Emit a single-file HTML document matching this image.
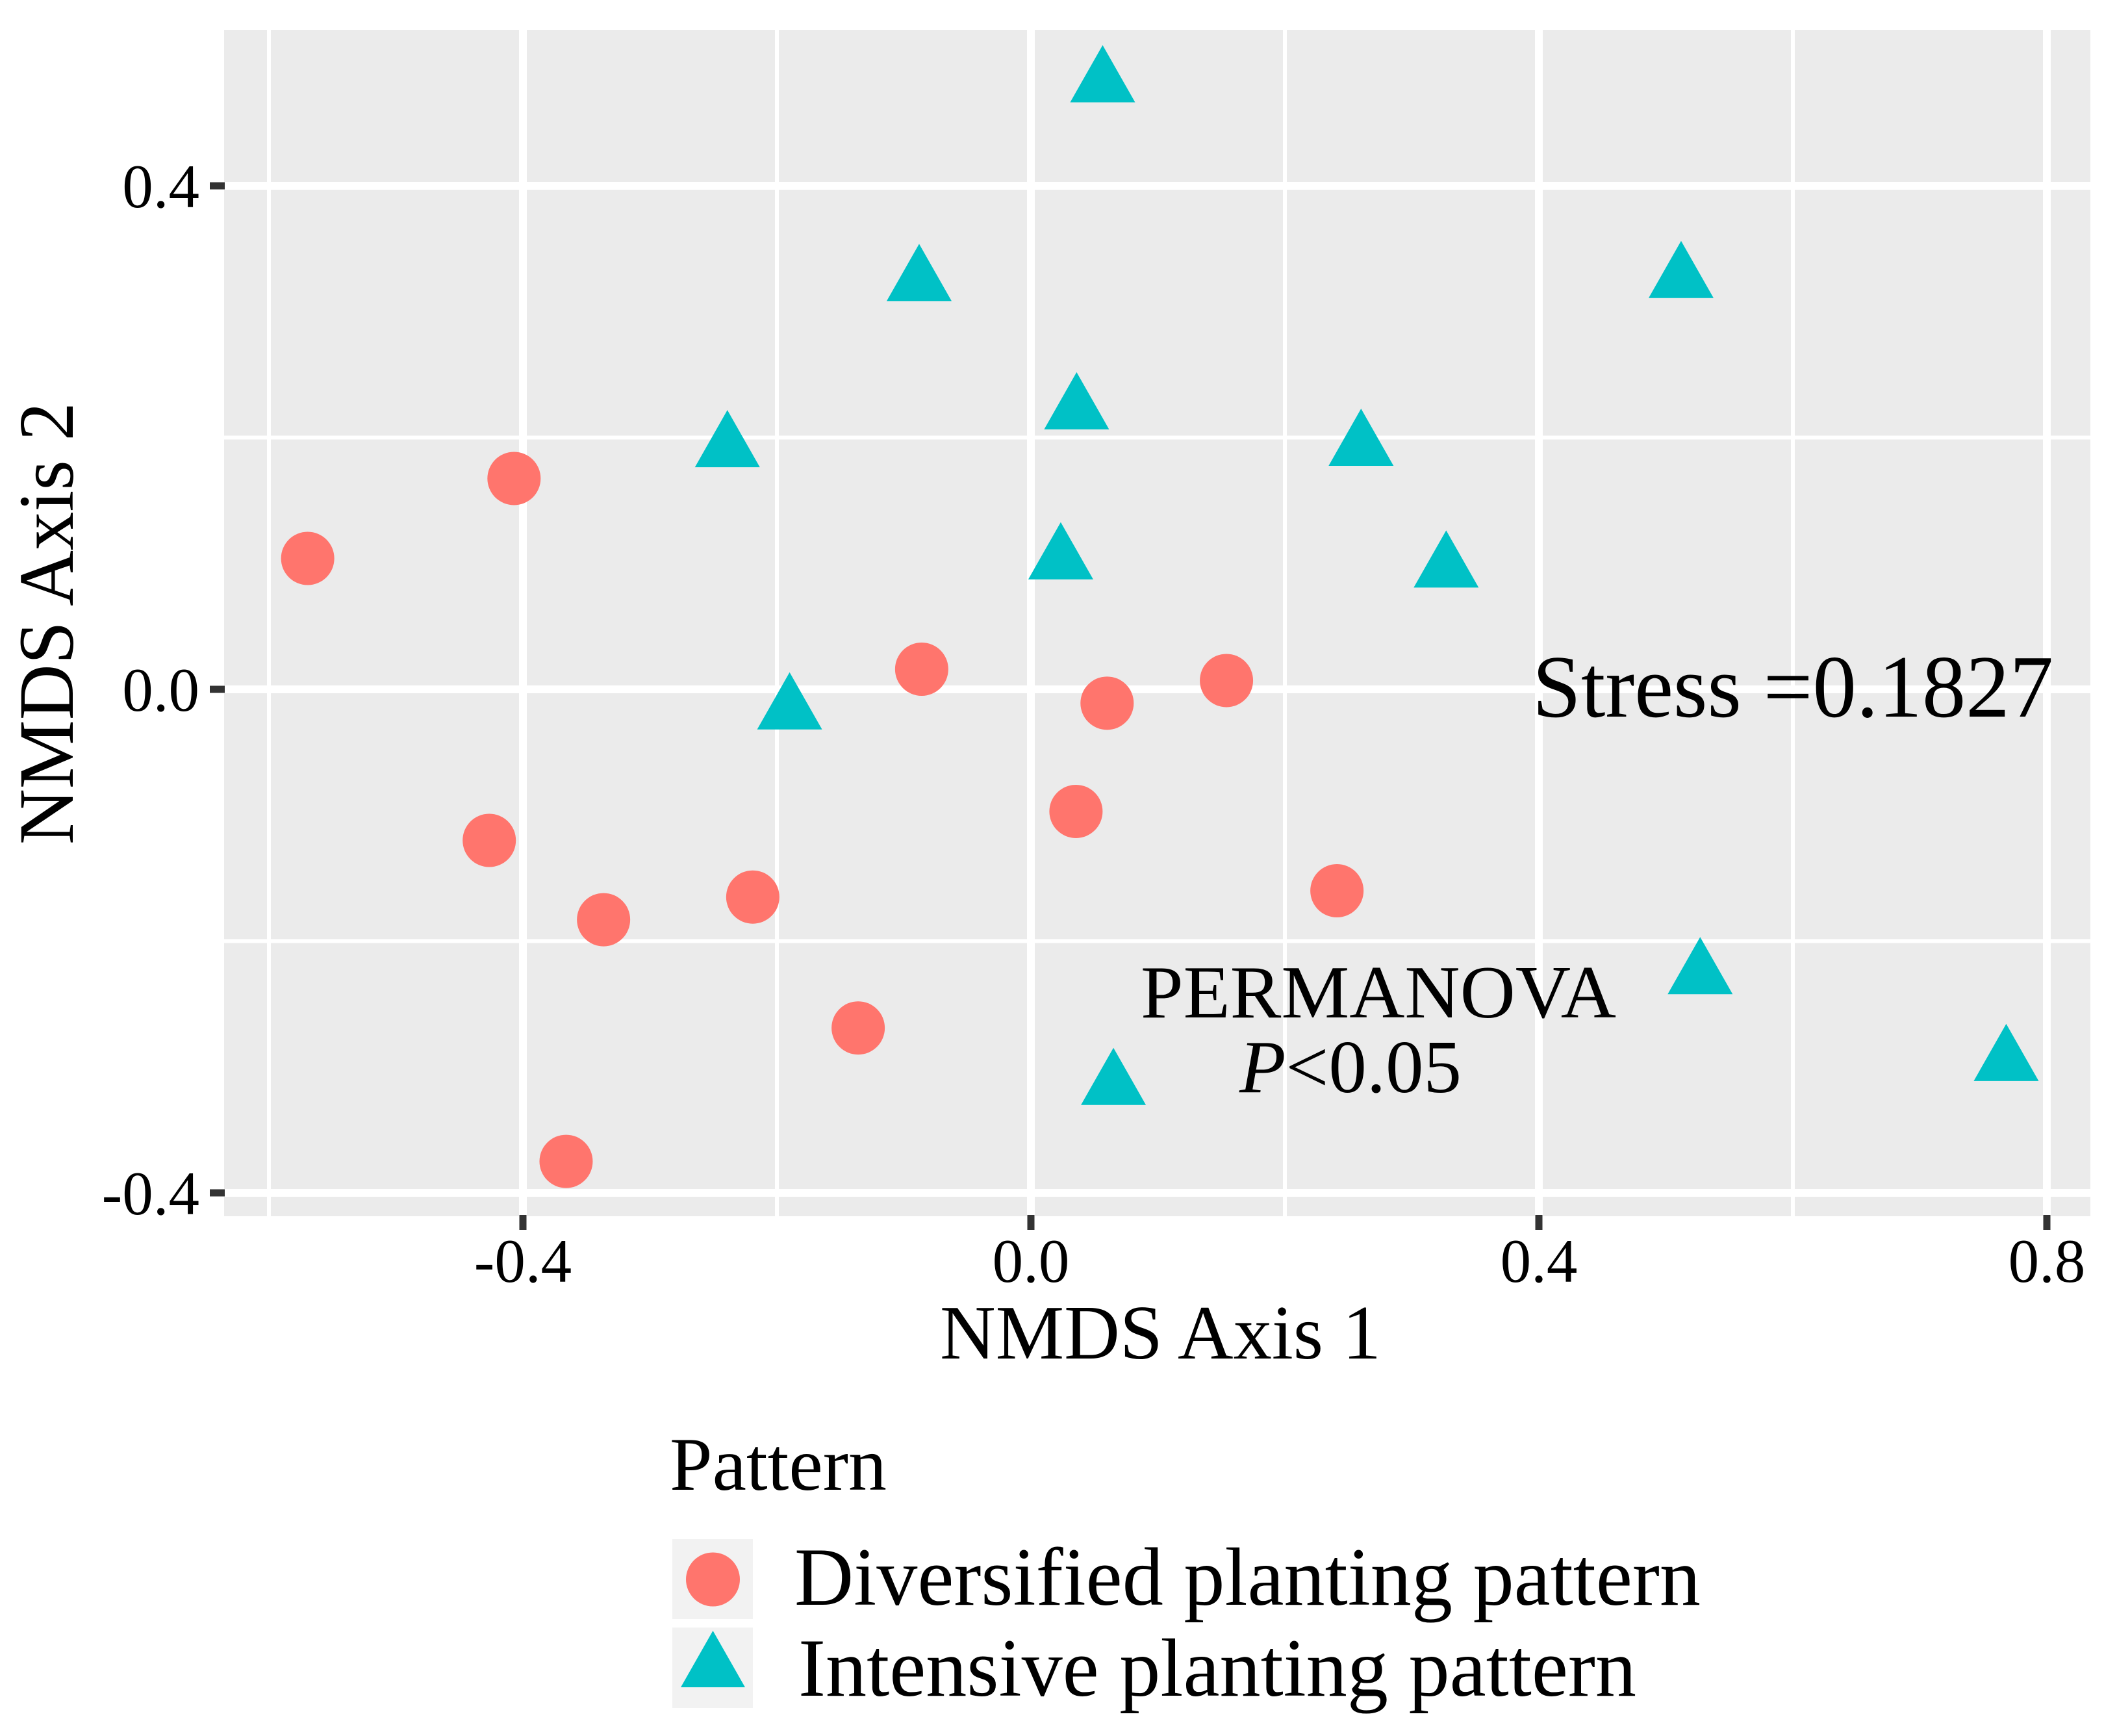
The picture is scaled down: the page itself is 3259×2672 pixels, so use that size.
<!DOCTYPE html>
<html>
<head>
<meta charset="utf-8">
<style>
html,body{margin:0;padding:0;background:#fff;}
svg{display:block;}
text{font-family:"Liberation Serif",serif;fill:#000;}
</style>
</head>
<body>
<svg id="chart" xmlns="http://www.w3.org/2000/svg" width="3259" height="2672" viewBox="0 0 3259 2672">
  <rect x="0" y="0" width="3259" height="2672" fill="#ffffff"/>
  <rect x="345" y="46" width="2873" height="1826" fill="#ebebeb"/>
  <g id="grid"></g>
  <g id="ticks"></g>
  <g id="labels"></g>
  <g id="marks"></g>
  <text x="2359" y="1103" font-size="137" textLength="802" lengthAdjust="spacingAndGlyphs">Stress =0.1827</text>
  <text x="1756" y="1566" font-size="115" textLength="732" lengthAdjust="spacingAndGlyphs">PERMANOVA</text>
  <text x="1908" y="1681" font-size="115" textLength="342" lengthAdjust="spacingAndGlyphs"><tspan font-style="italic">P</tspan>&lt;0.05</text>
  <text x="1447" y="2091" font-size="119" textLength="679" lengthAdjust="spacingAndGlyphs">NMDS Axis 1</text>
  <text transform="translate(112,1300) rotate(-90)" x="0" y="0" font-size="121" textLength="681" lengthAdjust="spacingAndGlyphs">NMDS Axis 2</text>
  <g>
    <text x="1031" y="2293" font-size="117" textLength="334" lengthAdjust="spacingAndGlyphs">Pattern</text>
    <rect x="1035" y="2369" width="124" height="123" fill="#f2f2f2"/>
    <rect x="1035" y="2505" width="124" height="124" fill="#f2f2f2"/>
    <circle cx="1097.5" cy="2431" r="41.5" fill="#ff756d"/>
    <polygon points="1097.5,2510 1147,2597 1048,2597" fill="#00c1c6"/>
    <text x="1223" y="2470" font-size="127" textLength="1395" lengthAdjust="spacingAndGlyphs">Diversified planting pattern</text>
    <text x="1229" y="2610" font-size="127" textLength="1290" lengthAdjust="spacingAndGlyphs">Intensive planting pattern</text>
  </g>
</svg>
<script>
const xTicks = [-0.4, 0.0, 0.4, 0.8];
const xTickLabels = ["-0.4", "0.0", "0.4", "0.8"];
const yTicks = [-0.4, 0.0, 0.4];
const yTickLabels = ["-0.4", "0.0", "0.4"];
const xMinor = [-0.6, -0.2, 0.2, 0.6];
const yMinor = [-0.2, 0.2];
const diversifiedX = [-0.5695, -0.407, -0.4265, -0.3365, -0.2190, -0.136, -0.366, -0.086, 0.060, 0.154, 0.0355, 0.241];
const diversifiedY = [0.104, 0.1675, -0.120, -0.183, -0.165, -0.269, -0.375, 0.016, -0.011, 0.007, -0.097, -0.160];
const intensiveX = [0.0565, -0.088, 0.512, 0.036, -0.239, 0.260, 0.0235, 0.327, -0.190, 0.527, 0.768, 0.065];
const intensiveY = [0.4875, 0.3296, 0.332, 0.2277, 0.1976, 0.1987, 0.1085, 0.102, -0.0107, -0.221, -0.290, -0.309];

const NS = "http://www.w3.org/2000/svg";
function sx(v) { return 1587 + v * 1955; }
function sy(v) { return 1061 - v * 1937.5; }
function make(tag, parentId, attrs) {
  const el = document.createElementNS(NS, tag);
  Object.keys(attrs).forEach(function (k) { el.setAttribute(k, attrs[k]); });
  document.getElementById(parentId).appendChild(el);
  return el;
}

xMinor.forEach(function (v) {
  const el = make("line", "grid", { x1: sx(v), x2: sx(v), y1: 46, y2: 1872, stroke: "#fff", "stroke-width": 6 });
  
  
});
yMinor.forEach(function (v) {
  const el = make("line", "grid", { x1: 345, x2: 3218, y1: sy(v), y2: sy(v), stroke: "#fff", "stroke-width": 6 });
  
  
});
xTicks.forEach(function (v, i) {
  const grid = make("line", "grid", { x1: sx(v), x2: sx(v), y1: 46, y2: 1872, stroke: "#fff", "stroke-width": 12 });
  
  
  const tick = make("line", "ticks", { x1: sx(v), x2: sx(v), y1: 1870, y2: 1893, stroke: "#333", "stroke-width": 11 });
  
  
  const label = make("text", "labels", { x: sx(v), y: 1973, "font-size": 95, "text-anchor": "middle" });
  
  
  label.textContent = xTickLabels[i];
});
yTicks.forEach(function (v, i) {
  const grid = make("line", "grid", { x1: 345, x2: 3218, y1: sy(v), y2: sy(v), stroke: "#fff", "stroke-width": 12 });
  
  
  const tick = make("line", "ticks", { x1: 323, x2: 346, y1: sy(v), y2: sy(v), stroke: "#333", "stroke-width": 11 });
  
  
  const label = make("text", "labels", { x: 307, y: sy(v) + 33, "font-size": 95, "text-anchor": "end" });
  
  
  label.textContent = yTickLabels[i];
});
diversifiedX.forEach(function (v, i) {
  const el = make("circle", "marks", { cx: sx(v), cy: sy(diversifiedY[i]), r: 41, fill: "#ff756d" });
  
  
});
intensiveX.forEach(function (v, i) {
  const cx = sx(v);
  const cy = sy(intensiveY[i]);
  const pts = cx + "," + (cy - 47) + " " + (cx + 50) + "," + (cy + 41) + " " + (cx - 50) + "," + (cy + 41);
  const el = make("polygon", "marks", { points: pts, fill: "#00c1c6" });
  
  
});
</script>
</body>
</html>
